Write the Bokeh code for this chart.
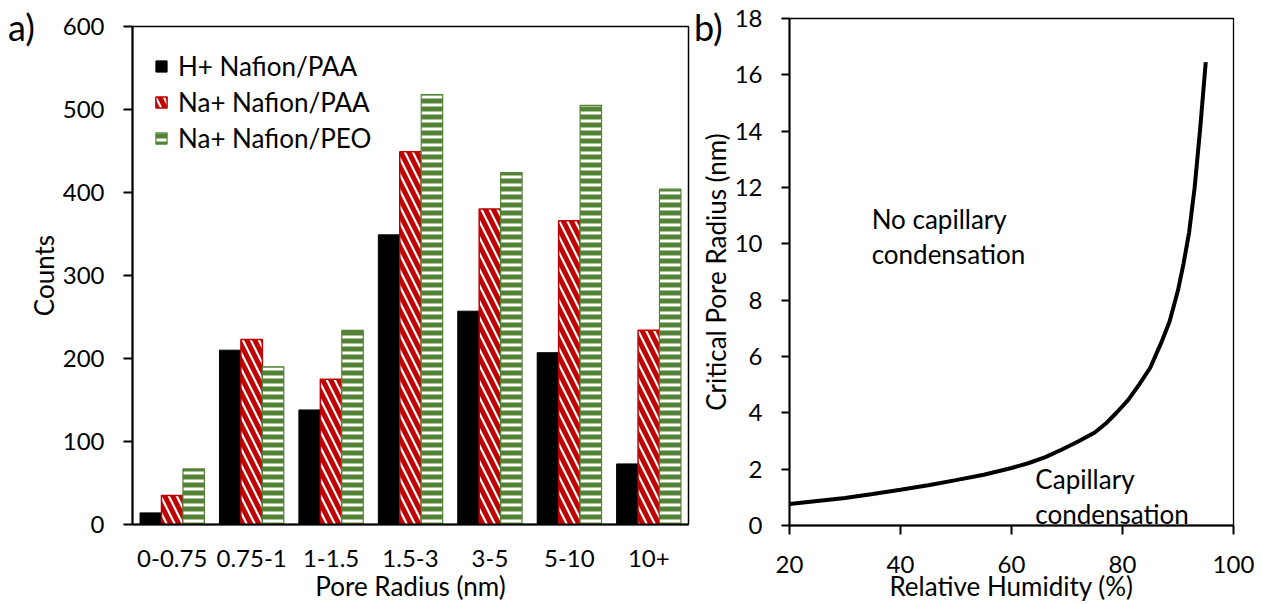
from bokeh.plotting import figure
from bokeh.layouts import row, column
from bokeh.models import (FactorRange, Range1d, Label, Legend, LegendItem,
                          FixedTicker, ColumnDataSource, Div)
from bokeh.transform import dodge
from bokeh.embed import file_html
from bokeh.resources import INLINE

# ---------------- data: panel a ----------------
categories = ["0-0.75", "0.75-1", "1-1.5", "1.5-3", "3-5", "5-10", "10+"]
h_nafion_paa = [14, 210, 138, 349, 257, 207, 73]
na_nafion_paa = [35, 223, 175, 449, 380, 366, 234]
na_nafion_peo = [67, 190, 234, 518, 424, 505, 404]
series_names = ["H+ Nafion/PAA", "Na+ Nafion/PAA", "Na+ Nafion/PEO"]
count_ticks = [0, 100, 200, 300, 400, 500, 600]

# ---------------- data: panel b ----------------
relative_humidity = [20, 25, 30, 35, 40, 45, 50, 55, 60, 63, 66, 69, 72, 75,
                     77, 79, 81, 83, 85, 87, 88.5, 90, 91, 92, 93, 94, 95]
critical_radius = [0.76, 0.87, 0.98, 1.12, 1.27, 1.43, 1.61, 1.80, 2.04, 2.21,
                   2.42, 2.69, 2.98, 3.30, 3.62, 4.02, 4.45, 5.0, 5.6, 6.5,
                   7.25, 8.35, 9.3, 10.4, 12.0, 14.1, 16.45]
rh_ticks = [20, 40, 60, 80, 100]
radius_ticks = [0, 2, 4, 6, 8, 10, 12, 14, 16, 18]
annotations_b = [("No capillary", 34.8, 10.88), ("condensation", 34.8, 9.65),
                 ("Capillary", 64.3, 1.66), ("condensation", 64.3, 0.42)]

FONT = "Lato"
TICK_SIZE = "24px"
TEXT_SIZE = "26px"
RED = "#c00000"
GREEN = "#548235"

# ================= panel a =================
src = ColumnDataSource(dict(cat=categories, h=h_nafion_paa,
                            napaa=na_nafion_paa, napeo=na_nafion_peo))

pa = figure(x_range=FactorRange(factors=categories, range_padding=0),
            y_range=Range1d(0, 600), width=691, height=604,
            min_border_left=132, min_border_right=3, min_border_top=26,
            min_border_bottom=78, output_backend="svg", toolbar_location=None,
            background_fill_color="white", border_fill_color="white")

bw = 0.27
r1 = pa.vbar(x=dodge("cat", -bw, range=pa.x_range), top="h", width=bw, source=src,
             fill_color="black", line_color="black", line_width=1)
r2 = pa.vbar(x=dodge("cat", 0.0, range=pa.x_range), top="napaa", width=bw, source=src,
             fill_color="white", line_color=RED, line_width=1.5,
             hatch_pattern="left_diagonal_line", hatch_color=RED,
             hatch_weight=5, hatch_scale=16)
r3 = pa.vbar(x=dodge("cat", bw, range=pa.x_range), top="napeo", width=bw, source=src,
             fill_color="white", line_color=GREEN, line_width=1.2,
             hatch_pattern="horizontal_line", hatch_color=GREEN,
             hatch_weight=5, hatch_scale=8)

legend = Legend(items=[LegendItem(label=series_names[0], renderers=[r1]),
                       LegendItem(label=series_names[1], renderers=[r2]),
                       LegendItem(label=series_names[2], renderers=[r3])],
                location="top_left", margin=12, padding=10, spacing=0,
                label_height=36, glyph_width=14, glyph_height=14,
                label_standoff=10, label_text_font=FONT,
                label_text_font_size=TEXT_SIZE, label_text_color="black",
                border_line_alpha=0, background_fill_alpha=0)
pa.add_layout(legend)

pa.xgrid.visible = False
pa.ygrid.visible = False
pa.outline_line_color = "black"
pa.outline_line_width = 1.5

pa.yaxis.ticker = FixedTicker(ticks=count_ticks)
pa.yaxis.axis_label = "Counts"
pa.xaxis.axis_label = "Pore Radius (nm)"
for ax in (pa.xaxis[0], pa.yaxis[0]):
    ax.axis_line_width = 2
    ax.axis_line_color = "black"
    ax.major_tick_line_color = "black"
    ax.major_tick_line_width = 2
    ax.minor_tick_line_color = None
    ax.major_tick_in = 0
    ax.major_label_text_font = FONT
    ax.major_label_text_font_size = TICK_SIZE
    ax.major_label_text_color = "black"
    ax.axis_label_text_font = FONT
    ax.axis_label_text_font_size = TEXT_SIZE
    ax.axis_label_text_font_style = "normal"
    ax.axis_label_text_color = "black"
pa.yaxis.major_tick_out = 9
pa.yaxis.major_label_standoff = 19
pa.yaxis.axis_label_standoff = 0
pa.xaxis.major_tick_out = 0
pa.xaxis.major_label_standoff = 25
pa.xaxis.axis_label_standoff = 0

# ================= panel b =================
pb = figure(x_range=Range1d(20, 100), y_range=Range1d(0, 18), width=571, height=604,
            min_border_left=98, min_border_right=29, min_border_top=18,
            min_border_bottom=76, output_backend="svg", toolbar_location=None,
            background_fill_color="white", border_fill_color="white")
pb.line(relative_humidity, critical_radius, line_color="black", line_width=4)

for txt, xx, yy in annotations_b:
    pb.add_layout(Label(x=xx, y=yy, text=txt, text_font=FONT,
                        text_font_size=TEXT_SIZE, text_baseline="alphabetic",
                        text_align="left", text_color="black"))

pb.xgrid.visible = False
pb.ygrid.visible = False
pb.outline_line_color = "black"
pb.outline_line_width = 1.3
pb.xaxis.ticker = FixedTicker(ticks=rh_ticks)
pb.yaxis.ticker = FixedTicker(ticks=radius_ticks)
pb.xaxis.axis_label = "Relative Humidity (%)"
pb.yaxis.axis_label = "Critical Pore Radius (nm)"
for ax in (pb.xaxis[0], pb.yaxis[0]):
    ax.axis_line_width = 2
    ax.axis_line_color = "black"
    ax.major_tick_line_color = "black"
    ax.major_tick_line_width = 2
    ax.minor_tick_line_color = None
    ax.major_tick_in = 0
    ax.major_label_text_font = FONT
    ax.major_label_text_font_size = TICK_SIZE
    ax.major_label_text_color = "black"
    ax.axis_label_text_font = FONT
    ax.axis_label_text_font_size = TEXT_SIZE
    ax.axis_label_text_font_style = "normal"
    ax.axis_label_text_color = "black"
pb.yaxis.major_tick_out = 8
pb.yaxis.major_label_standoff = 19
pb.yaxis.axis_label_standoff = 0
pb.xaxis.major_tick_out = 9
pb.xaxis.major_label_standoff = 21
pb.xaxis.axis_label_standoff = -6

# panel letters as absolutely positioned text overlays
span = '<span style="font-family: Lato; font-size: 36px; line-height: 1.2; color: black;">{}</span>'
pos_style = {"position": "absolute", "top": "6px", "z-index": "10"}
label_a = Div(text=span.format("a)"), width=50, height=46, margin=0,
              styles={**pos_style, "left": "8px"})
label_b = Div(text=span.format("b)"), width=50, height=46, margin=0,
              styles={**pos_style, "left": "694px"})

layout = row(column(pa), column(pb), label_a, label_b)
open("out.html", "w").write(file_html(layout, INLINE))
